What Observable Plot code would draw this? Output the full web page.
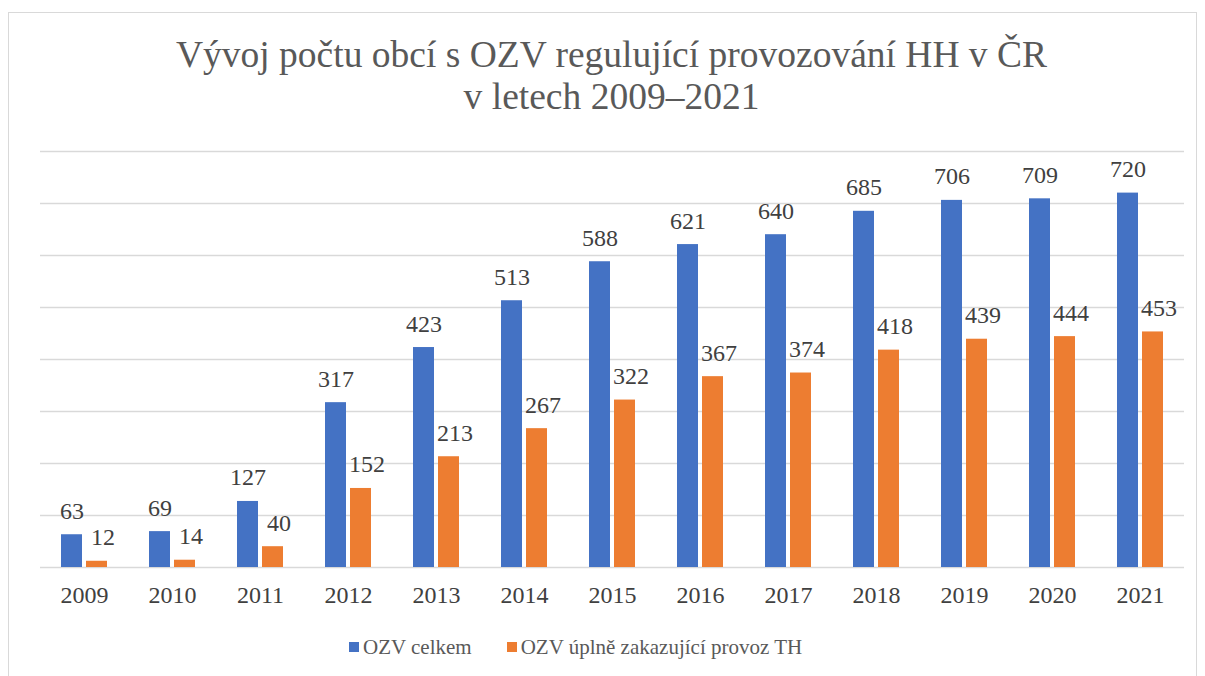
<!DOCTYPE html>
<html>
<head>
<meta charset="utf-8">
<script src="https://cdn.jsdelivr.net/npm/d3@7"></script>
<script src="https://cdn.jsdelivr.net/npm/@observablehq/plot@0.6"></script>
<style>
  html, body { margin: 0; padding: 0; background: #fff; }
  #wrap { position: relative; width: 1205px; height: 676px; overflow: hidden; font-family: "Liberation Serif", "Times New Roman", serif; }
  #border { position: absolute; left: 8px; top: 12px; width: 1189px; height: 700px; border: 1px solid #d9d9d9; box-sizing: border-box; }
  #title { position: absolute; left: 0; top: 34px; width: 1223px; text-align: center; font-size: 37.5px; line-height: 42px; color: #595959; }
  #chart { position: absolute; left: 0; top: 130px; }
  #legend { position: absolute; left: 349px; top: 634px; display: flex; gap: 35px; font-size: 21px; line-height: 26px; color: #595959; white-space: nowrap; }
  .item { display: flex; align-items: center; }
  .sw { width: 10px; height: 10px; margin-right: 4px; }
</style>
</head>
<body>
<div id="wrap">
  <div id="border"></div>
  <div id="title">Vývoj počtu obcí s OZV regulující provozování HH v ČR<br>v letech 2009–2021</div>
  <div id="chart"></div>
  <div id="legend"></div>
</div>
<script>
const years = ["2009","2010","2011","2012","2013","2014","2015","2016","2017","2018","2019","2020","2021"];
const seriesNames = ["OZV celkem", "OZV úplně zakazující provoz TH"];
const seriesColors = ["#4472C4", "#ED7D31"];
const celkem = [63, 69, 127, 317, 423, 513, 588, 621, 640, 685, 706, 709, 720];
const zakazujici = [12, 14, 40, 152, 213, 267, 322, 367, 374, 418, 439, 444, 453];
const yTicks = [0, 100, 200, 300, 400, 500, 600, 700, 800];

const data = [];
years.forEach((y, i) => {
  data.push({year: y, series: seriesNames[0], value: celkem[i]});
  data.push({year: y, series: seriesNames[1], value: zakazujici[i]});
});

const chart = Plot.plot({
  width: 1205,
  height: 482,
  marginTop: 21,
  marginBottom: 45,
  marginLeft: 38,
  marginRight: 19,
  style: {fontFamily: '"Liberation Serif", "Times New Roman", serif', fontSize: "24px", color: "#404040", background: "transparent"},
  fx: {domain: years, padding: 0, label: null},
  x: {domain: seriesNames, axis: null, paddingInner: 0.18, paddingOuter: 0.8},
  y: {domain: [0, 800], axis: null},
  color: {domain: seriesNames, range: seriesColors},
  marks: [
    Plot.ruleY(yTicks, {stroke: "#d9d9d9", strokeWidth: 1.3}),
    Plot.barY(data, {fx: "year", x: "series", y: "value", fill: "series"}),
    Plot.text(data.filter(d => d.series === seriesNames[0]), {fx: "year", x: "series", y: "value", text: d => String(d.value), lineAnchor: "bottom", dy: -16, fill: "#404040", fontSize: 24}),
    Plot.text(data.filter(d => d.series === seriesNames[1]), {fx: "year", x: "series", y: "value", text: d => String(d.value), lineAnchor: "bottom", dy: -16, dx: 6, fill: "#404040", fontSize: 24}),
    Plot.axisFx({anchor: "bottom", tickSize: 0, tickPadding: 18, fontSize: 24, fill: "#404040", label: null})
  ]
});
document.getElementById("chart").appendChild(chart);

const legend = document.getElementById("legend");
seriesNames.forEach((n, i) => {
  const it = document.createElement("div");
  it.className = "item";
  const sw = document.createElement("div");
  sw.className = "sw";
  sw.style.background = seriesColors[i];
  const t = document.createElement("span");
  t.textContent = n;
  it.appendChild(sw); it.appendChild(t);
  legend.appendChild(it);
});
</script>
</body>
</html>
